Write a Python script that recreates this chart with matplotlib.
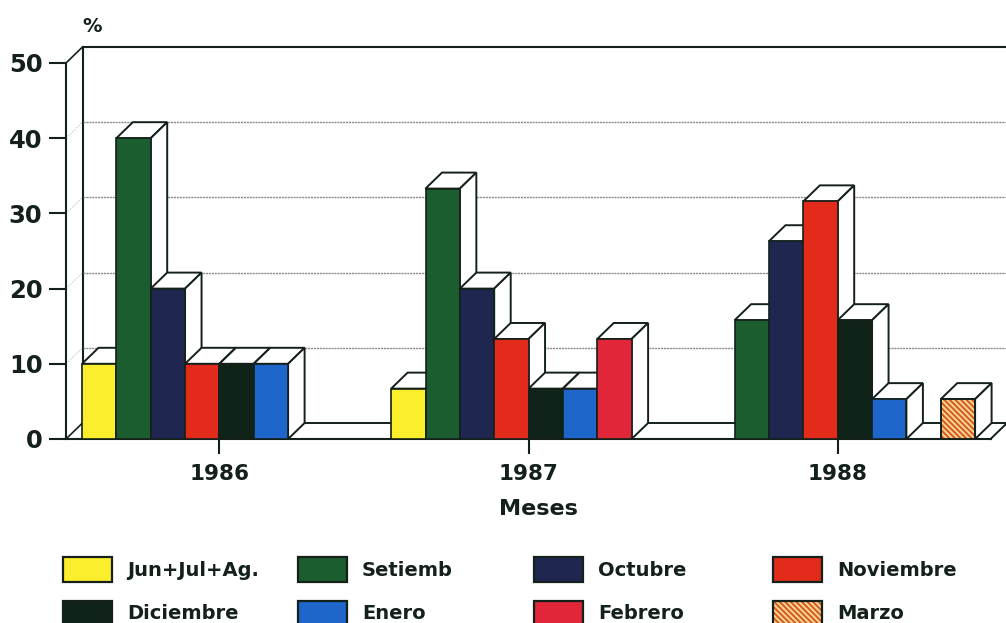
import matplotlib
matplotlib.use('Agg')
from matplotlib import pyplot as plt
from matplotlib.patches import Patch, Polygon
from matplotlib.legend_handler import HandlerTuple

plt.rcParams['font.family'] = ['DejaVu Sans']
plt.rcParams['font.weight'] = 'bold'
plt.rcParams['hatch.linewidth'] = 1.4

years = ['1986', '1987', '1988']
months = ['Jun+Jul+Ag.', 'Setiemb', 'Octubre', 'Noviembre',
          'Diciembre', 'Enero', 'Febrero', 'Marzo']
colores = ['#fbee2c', '#1c5d2f', '#1f2650', '#e22b1b',
           '#0f2318', '#1f66cb', '#e1263a', '#f6d98a']

# slot de cada barra en el eje x, sin separar por grupo
slots_1986 = [0, 1, 2, 3, 4, 5]
vals_1986 = [10, 40, 20, 10, 10, 10]
mes_1986 = [0, 1, 2, 3, 4, 5]

slots_1987 = [9, 10, 11, 12, 13, 14, 15]
vals_1987 = [6.7, 33.3, 20, 13.3, 6.7, 6.7, 13.3]
mes_1987 = [0, 1, 2, 3, 4, 5, 6]

slots_1988 = [19, 20, 21, 22, 23, 25]
vals_1988 = [15.8, 26.3, 31.6, 15.8, 5.3, 5.3]
mes_1988 = [1, 2, 3, 4, 5, 7]

year_ticks = [4, 13, 22]
y_ticks = [0, 10, 20, 30, 40, 50]

W, H = 1006, 623
px_x = 34.35   # pixeles por slot
px_y = 7.52   # pixeles por unidad de %
dx = 16.5 / px_x
dy = 16 / px_y
borde = '#14201a'

fig = plt.figure(figsize=(W / 100, H / 100), dpi=100)
ax = fig.add_axes([66 / W, (H - 439) / H, (W - 66) / W, (439 - 47) / H])
ax.set_xlim(-16 / px_x, (W - 82) / px_x)
ax.set_ylim(0, (439 - 47) / px_y)
ax.patch.set_visible(False)

ax.spines['top'].set_visible(False)
ax.spines['right'].set_visible(False)
ax.spines['left'].set_bounds(0, 50)
ax.spines['left'].set_linewidth(1.5)
ax.spines['left'].set_color(borde)
ax.spines['bottom'].set_bounds(-16 / px_x, 26.45)
ax.spines['bottom'].set_linewidth(1.5)
ax.spines['bottom'].set_color(borde)

ax.set_yticks(y_ticks)
ax.set_xticks(year_ticks)
ax.set_xticklabels(years)
ax.tick_params(axis='y', length=12, width=1.5, color=borde, labelsize=17.5,
               labelcolor=borde, pad=5)
ax.tick_params(axis='x', length=11, width=1.5, color=borde, labelsize=15.5,
               labelcolor=borde, pad=7)
ax.set_xlabel('Meses', fontsize=16, color=borde, weight='bold')
ax.xaxis.set_label_coords((538 - 66) / (W - 66), -60 / (439 - 47))
ax.text(-16 / px_x + 26 / px_x, 54.8, '%', fontsize=14, color=borde, clip_on=False,
        ha='center', va='center')

# pared del fondo
x_izq, x_der = -16 / px_x, ax.get_xlim()[1]
ax.plot([x_izq, x_izq + dx], [50, 50 + dy], color=borde, lw=1.2, clip_on=False)
ax.plot([x_izq + dx, x_izq + dx], [dy, 50 + dy], color=borde, lw=1.5, clip_on=False)
ax.plot([x_izq + dx, x_der], [50 + dy, 50 + dy], color=borde, lw=1.5, clip_on=False)
ax.plot([x_izq, x_izq + dx], [0, dy], color=borde, lw=1.2)
ax.plot([x_izq + dx, x_der], [dy, dy], color=borde, lw=1.4)
ax.plot([26.45, 26.45 + dx], [0, dy], color=borde, lw=1.4, clip_on=False)
for v in y_ticks[1:-1]:
    ax.plot([x_izq + dx, x_der], [v + dy, v + dy], color='#8a8a8a', lw=1, ls=(0, (1.5, 0.6)))
    ax.plot([x_izq, x_izq + dx], [v, v + dy], color='#c4c4c4', lw=0.7, ls=(0, (1.5, 1.5)))


def barra(slot, valor, mes, z):
    top = [(slot, valor), (slot + dx, valor + dy), (slot + 1 + dx, valor + dy), (slot + 1, valor)]
    lado = [(slot + 1, 0), (slot + 1 + dx, dy), (slot + 1 + dx, valor + dy), (slot + 1, valor)]
    ax.add_patch(Polygon(top, facecolor='white', edgecolor=borde, lw=1.4, zorder=z))
    ax.add_patch(Polygon(lado, facecolor='white', edgecolor=borde, lw=1.4, zorder=z))
    if mes == 7:
        ax.bar(slot, valor, 1, align='edge', color=colores[mes], edgecolor='#d8562a',
               hatch='\\\\\\\\\\\\', lw=0, zorder=z + 0.1)
        ax.bar(slot, valor, 1, align='edge', fill=False, edgecolor=borde, lw=1.4, zorder=z + 0.2)
    else:
        ax.bar(slot, valor, 1, align='edge', color=colores[mes], edgecolor=borde,
               lw=1.2, zorder=z + 0.1)


z = 3
for slots, vals, mes in [(slots_1986, vals_1986, mes_1986),
                         (slots_1987, vals_1987, mes_1987),
                         (slots_1988, vals_1988, mes_1988)]:
    for s, v, m in zip(slots, vals, mes):
        barra(s, v, m, z)
        z += 1

# leyenda: una por columna para que queden a las mismas x que el original
col_x = [63, 298, 534, 773]
orden = [(0, 4), (1, 5), (2, 6), (3, 7)]
for x0, (a, b) in zip(col_x, orden):
    handles = []
    for m in (a, b):
        if m == 7:
            handles.append((Patch(facecolor=colores[m], edgecolor='#d8562a', hatch='\\\\\\\\\\\\', lw=0),
                            Patch(fill=False, edgecolor=borde, lw=1.6)))
        else:
            handles.append((Patch(facecolor=colores[m], edgecolor=borde, lw=1.6),))
    leg = fig.legend(handles, [months[a], months[b]], loc='upper left',
                     bbox_to_anchor=(x0 / W, 1 - 557 / H), frameon=False, fontsize=14,
                     handlelength=2.52, handleheight=1.57, handletextpad=0.77,
                     labelspacing=0.98, borderpad=0, borderaxespad=0,
                     labelcolor=borde, handler_map={tuple: HandlerTuple(ndivide=1, pad=0)})

fig.savefig('out.png', dpi=100)
